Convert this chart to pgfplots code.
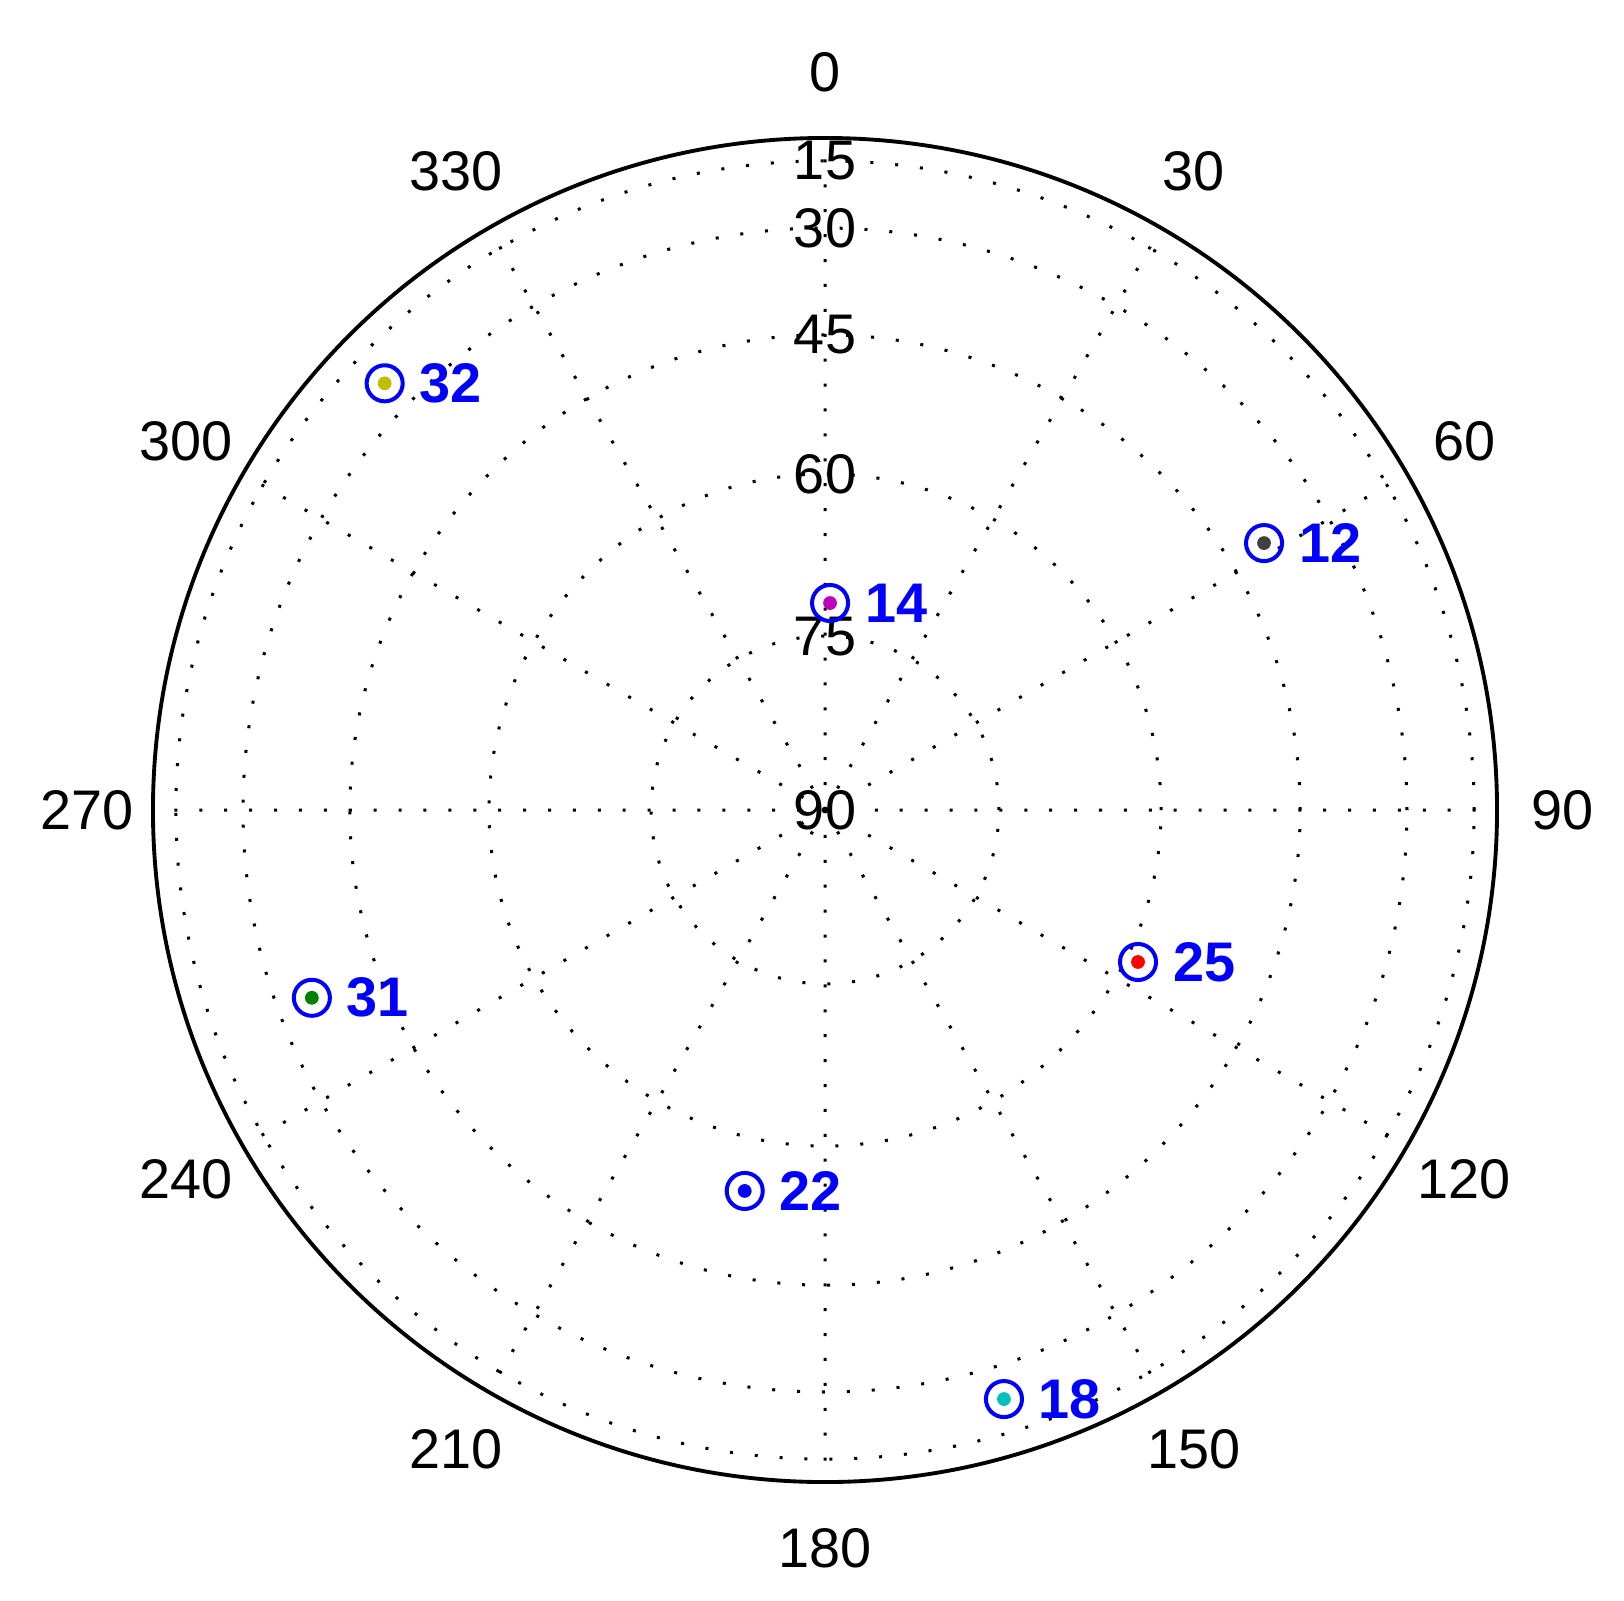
\documentclass[border=0pt]{standalone}
\usepackage{fontspec}
\setmainfont{Liberation Sans}
\usepackage{pgfplots}
\usepackage{pgfplotstable}
\usepgfplotslibrary{polar}
\pgfplotsset{compat=1.18}
\definecolor{mblue}{RGB}{0,0,255}
\definecolor{mgreen}{RGB}{0,128,0}
\definecolor{mred}{RGB}{255,0,0}
\definecolor{mcyan}{RGB}{0,191,191}
\definecolor{mmagenta}{RGB}{191,0,191}
\definecolor{myellow}{RGB}{191,191,0}
\definecolor{mgray}{RGB}{64,64,64}

% theta = math angle (deg), r = cos(elevation)
\pgfplotstableread{
theta  r      prn
135.9  0.9124 32
31.3   0.7646 12
88.6   0.3081 14
334.1  0.5178 25
200.1  0.8131 31
258.1  0.5793 22
286.9  0.9161 18
}\sats

\begin{document}
\begin{tikzpicture}
\path[use as bounding box] (-6.752,-6.466) rectangle (6.539,6.629);
\begin{polaraxis}[
  at={(0,0)}, anchor=center,
  scale only axis, width=11cm, height=11cm,
  ymin=0, ymax=1,
  xtick={0,30,...,330}, xticklabels={},
  ytick={0.2588,0.5,0.7071,0.8660,0.9659}, yticklabels={},
  major tick length=0pt,
  grid=major,
  major grid style={black, line width=0.7pt, dash pattern=on 0.7pt off 5.1pt},
  separate axis lines,
  x axis line style={black, line width=0.9pt},
  y axis line style={draw=none},
  clip=false,
  font=\fontsize{13}{15}\selectfont,
]
\addplot[only marks, mark=o, mblue, mark size=4.2pt, mark options={line width=0.93pt},
  nodes near coords, point meta=explicit symbolic,
  every node near coord/.style={anchor=west, inner sep=0pt, xshift=0.27cm, yshift=0pt,
    text=mblue, font=\fontsize{13}{15}\selectfont\bfseries}]
  table[x=theta, y=r, meta=prn] {\sats};
\addplot[only marks, mark=*, myellow, mark size=1.4pt] coordinates {(135.9,0.9124)};
\addplot[only marks, mark=*, mgray, mark size=1.4pt] coordinates {(31.3,0.7646)};
\addplot[only marks, mark=*, mmagenta, mark size=1.4pt] coordinates {(88.6,0.3081)};
\addplot[only marks, mark=*, mred, mark size=1.4pt] coordinates {(334.1,0.5178)};
\addplot[only marks, mark=*, mgreen, mark size=1.4pt] coordinates {(200.1,0.8131)};
\addplot[only marks, mark=*, mblue, mark size=1.4pt] coordinates {(258.1,0.5793)};
\addplot[only marks, mark=*, mcyan, mark size=1.4pt] coordinates {(286.9,0.9161)};
% azimuth labels
\node at (axis cs:90,1.098) {0};
\node at (axis cs:60,1.098) {30};
\node at (axis cs:30,1.098) {60};
\node at (axis cs:0,1.098) {90};
\node at (axis cs:330,1.098) {120};
\node at (axis cs:300,1.098) {150};
\node at (axis cs:270,1.098) {180};
\node at (axis cs:240,1.098) {210};
\node at (axis cs:210,1.098) {240};
\node at (axis cs:180,1.098) {270};
\node at (axis cs:150,1.098) {300};
\node at (axis cs:120,1.098) {330};
% elevation labels
\node[inner sep=0pt] at (axis cs:90,0.9659) {15};
\node[inner sep=0pt] at (axis cs:90,0.8660) {30};
\node[inner sep=0pt] at (axis cs:90,0.7071) {45};
\node[inner sep=0pt] at (axis cs:90,0.5) {60};
\node[inner sep=0pt] at (axis cs:90,0.2588) {75};
\node[inner sep=0pt] at (axis cs:0,0) {90};
\end{polaraxis}
\end{tikzpicture}
\end{document}
